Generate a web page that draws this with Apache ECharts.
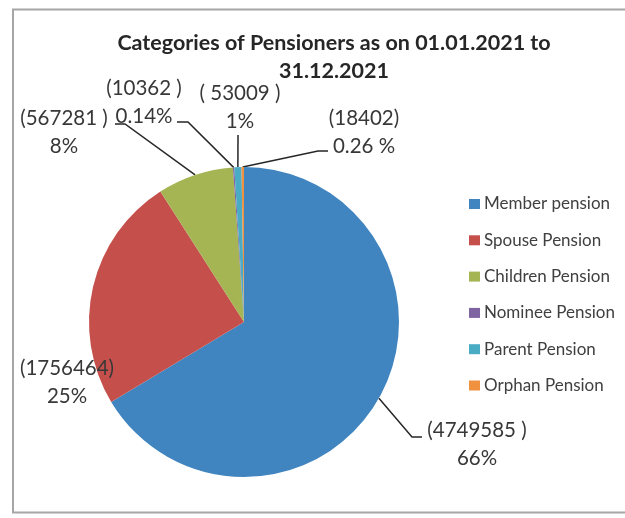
<!DOCTYPE html>
<html>
<head>
<meta charset="utf-8">
<script src="https://cdn.jsdelivr.net/npm/echarts@6/dist/echarts.min.js"></script>
<style>
  html, body { margin: 0; padding: 0; background: #fff; }
  #chart { width: 625px; height: 518px; }
</style>
</head>
<body>
<div id="chart"></div>
<script>
const categories = ['Member pension', 'Spouse Pension', 'Children Pension', 'Nominee Pension', 'Parent Pension', 'Orphan Pension'];
const pensioners = [4749585, 1756464, 567281, 10362, 53009, 18402];
const countLabels = ['(4749585 )', '(1756464)', '(567281 )', '(10362 )', '( 53009 )', '(18402)'];
const shareLabels = ['66%', '25%', '8%', '0.14%', '1%', '0.26 %'];
const colors = ['#4085c0', '#c44f4b', '#a5b554', '#7f64a2', '#4aabc5', '#f0913f'];

// label placement: centre x, top y, and the label end of the leader line
const labelSpots = [
  {x: 477, y: 416, bend: [412, 437], end: [422, 437]},
  {x: 67, y: 354},
  {x: 64, y: 104, bend: [125, 124], end: [115, 124]},
  {x: 144, y: 74, bend: [188, 122], end: [177, 122]},
  {x: 240, y: 79, end: [238, 135]},
  {x: 364, y: 104, bend: [318, 151], end: [328, 151]}
];

const chart = echarts.init(document.getElementById('chart'));
const font = 'Lato, "Open Sans", sans-serif';

const pieData = categories.map((name, i) => ({
  name: name,
  value: pensioners[i],
  itemStyle: {color: colors[i]},
  labelLine: {show: !!labelSpots[i].end}
}));

const option = {
  animation: false,
  title: {
    text: 'Categories of Pensioners as on 01.01.2021 to\n31.12.2021',
    left: 334,
    top: 29,
    padding: 0,
    textAlign: 'center',
    textStyle: {
      fontFamily: font,
      fontSize: 21.5,
      fontWeight: 'bold',
      lineHeight: 28,
      color: '#262626'
    }
  },
  legend: {
    orient: 'vertical',
    left: 469,
    top: 194,
    padding: 0,
    icon: 'rect',
    itemWidth: 11,
    itemHeight: 10,
    itemGap: 16.3,
    data: categories,
    textStyle: {
      fontFamily: font,
      fontSize: 17,
      lineHeight: 20,
      color: '#404040',
      padding: [0, 0, 0, -1]
    }
  },
  graphic: [{
    type: 'rect',
    shape: {x: 13, y: 9.5, width: 700, height: 503},
    style: {fill: 'none', stroke: '#a6a6a6', lineWidth: 2},
    silent: true
  }],
  series: [{
    type: 'pie',
    center: [244, 322],
    radius: 155,
    startAngle: 90,
    clockwise: true,
    avoidLabelOverlap: false,
    data: pieData,
    label: {
      show: true,
      position: 'outside',
      formatter: p => countLabels[p.dataIndex] + '\n' + shareLabels[p.dataIndex],
      fontFamily: font,
      fontSize: 20.5,
      lineHeight: 28,
      color: '#383838',
      align: 'center'
    },
    labelLine: {
      show: true,
      lineStyle: {color: '#262626', width: 1.5}
    },
    labelLayout: function (params) {
      const spot = labelSpots[params.dataIndex];
      const out = {x: spot.x, y: spot.y, align: 'center', verticalAlign: 'top'};
      if (spot.end && params.labelLinePoints) {
        const start = params.labelLinePoints[0];
        out.labelLinePoints = spot.bend ? [start, spot.bend, spot.end] : [start, spot.end];
      }
      return out;
    },
    emphasis: {disabled: true}
  }]
};

chart.setOption(option);
</script>
</body>
</html>
